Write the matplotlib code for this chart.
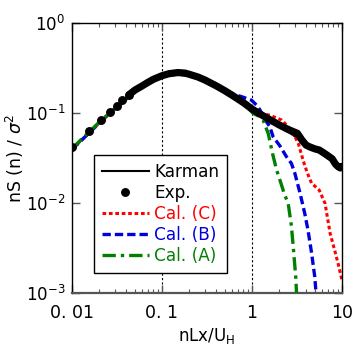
import matplotlib
matplotlib.use("Agg")
import matplotlib.pyplot as plt
from matplotlib.ticker import LogLocator, FixedLocator, NullFormatter

plt.rcParams['font.family'] = ['DejaVu Sans']
plt.rcParams['mathtext.fontset'] = 'dejavusans'

# Karman spectrum
karman_f = [0.01, 0.015, 0.02, 0.03, 0.05, 0.07, 0.1, 0.13, 0.15, 0.2, 0.3, 0.5, 0.7,
            1.0, 1.5, 2.0, 3.0, 5.0, 7.0, 10.0]
karman_v = [0.0398, 0.058, 0.0776, 0.111, 0.1746, 0.218, 0.256, 0.270, 0.271, 0.261,
            0.227, 0.174, 0.142, 0.1136, 0.0872, 0.0724, 0.055, 0.0393, 0.0314, 0.0248]

# Experiment
exp_f = [0.01, 0.0156, 0.0208, 0.0264, 0.0314, 0.0362, 0.043, 0.05, 0.06, 0.07, 0.08,
         0.1, 0.12, 0.15, 0.18, 0.2, 0.25, 0.3, 0.4, 0.5, 0.6, 0.7, 0.8, 1.0, 1.2,
         1.5, 2.0, 2.5, 2.9, 3.2, 3.6, 4.0, 4.4, 5.0, 5.6, 6.3, 7.0, 7.8, 8.5, 9.1,
         9.6, 10.0]
exp_v = [0.042, 0.0636, 0.0836, 0.1035, 0.121, 0.139, 0.160, 0.180, 0.200, 0.220, 0.237,
         0.260, 0.274, 0.282, 0.278, 0.270, 0.252, 0.233, 0.201, 0.177, 0.158, 0.143,
         0.131, 0.111, 0.099, 0.087, 0.074, 0.066, 0.062, 0.0595, 0.050, 0.044, 0.042,
         0.040, 0.0388, 0.036, 0.0335, 0.031, 0.027, 0.0253, 0.0245, 0.0255]

# Cal. (C)
calc_f = [0.01, 0.02, 0.05, 0.1, 0.15, 0.2, 0.3, 0.5, 0.7, 1.0, 1.23, 1.59, 2.14, 2.53,
          3.0, 3.3, 3.7, 4.1, 4.6, 5.6, 6.5, 7.4, 8.3, 9.1, 10.0]
calc_v = [0.0395, 0.077, 0.174, 0.256, 0.272, 0.262, 0.228, 0.175, 0.142, 0.113, 0.099,
          0.0945, 0.0836, 0.0705, 0.055, 0.045, 0.030, 0.022, 0.0166, 0.0139, 0.0099,
          0.0046, 0.003, 0.0021, 0.0014]

# Cal. (B)
calb_f = [0.01, 0.02, 0.05, 0.1, 0.15, 0.2, 0.3, 0.4, 0.5, 0.62, 0.77, 0.99, 1.12,
          1.23, 1.33, 1.58, 1.72, 2.05, 2.42, 2.75, 3.0, 3.43, 3.86, 4.2, 4.6, 5.0, 5.2]
calb_v = [0.0395, 0.077, 0.174, 0.256, 0.272, 0.262, 0.232, 0.207, 0.185, 0.162, 0.152,
          0.139, 0.123, 0.108, 0.091, 0.0705, 0.0545, 0.043, 0.0327, 0.0275, 0.0214,
          0.0128, 0.0077, 0.005, 0.0028, 0.0015, 0.0009]

# Cal. (A)
cala_f = [0.01, 0.02, 0.05, 0.1, 0.15, 0.2, 0.3, 0.5, 0.7, 0.85, 1.035, 1.2, 1.33,
          1.52, 1.7, 1.88, 2.1, 2.3, 2.53, 2.75, 2.9, 3.07, 3.15]
cala_v = [0.0405, 0.079, 0.178, 0.262, 0.285, 0.272, 0.232, 0.176, 0.140, 0.121, 0.099,
          0.092, 0.0836, 0.059, 0.035, 0.0233, 0.0166, 0.0125, 0.0099, 0.0055, 0.003,
          0.0015, 0.0009]

x_ticks = [0.01, 0.1, 1, 10]
x_ticklabels = ['0. 01', '0. 1', '1', '10']
y_ticks = [1e-3, 1e-2, 1e-1, 1e0]
y_ticklabels = [r'$10^{-3}$', r'$10^{-2}$', r'$10^{-1}$', r'$10^{0}$']

fig = plt.figure(figsize=(3.55, 3.45), dpi=100)
ax = fig.add_axes([0.203, 0.151, 0.760, 0.782])
ax.set_xscale('log')
ax.set_yscale('log')
ax.set_xlim(0.01, 10)
ax.set_ylim(1e-3, 1)

for gx in [0.1, 1]:
    ax.axvline(gx, color='black', linestyle=(0, (2, 2)), linewidth=0.8, zorder=1)

# experiment: dense part drawn as a thick band, separate dots at low frequency
n0 = 6
ax.plot(exp_f[n0:], exp_v[n0:], color='black', linewidth=5.2, solid_capstyle='round',
        solid_joinstyle='round', zorder=3)
ax.plot(karman_f, karman_v, color='black', linewidth=1.5, zorder=2, label='Karman')
ax.plot(exp_f[:n0 + 1], exp_v[:n0 + 1], linestyle='none', marker='o', markersize=5.4,
        color='black', zorder=4, label='Exp.')
ax.plot(calc_f, calc_v, color='#ff0000', linewidth=2.2, linestyle=(0, (1.2, 0.9)),
        zorder=2.5, label='Cal. (C)')
ax.plot(calb_f, calb_v, color='#0000dd', linewidth=2.4, linestyle=(0, (2.5, 1.2)),
        zorder=2.6, label='Cal. (B)')
ax.plot(cala_f, cala_v, color='#008000', linewidth=2.4, linestyle=(0, (4, 1.5, 1, 1.5)),
        zorder=2.7, label='Cal. (A)')

ax.xaxis.set_major_locator(FixedLocator(x_ticks))
ax.set_xticklabels(x_ticklabels)
ax.xaxis.set_minor_locator(LogLocator(base=10, subs=range(2, 10)))
ax.xaxis.set_minor_formatter(NullFormatter())
ax.yaxis.set_major_locator(FixedLocator(y_ticks))
ax.set_yticklabels(y_ticklabels)
ax.yaxis.set_minor_locator(FixedLocator([]))

ax.tick_params(which='both', direction='in', top=True, right=True, labelsize=12.5,
               color='#555555')
ax.tick_params(axis='y', labelsize=12)
ax.tick_params(which='major', length=6, width=1)
ax.tick_params(which='minor', length=3, width=0.8)
ax.tick_params(axis='x', pad=8)
ax.tick_params(axis='y', pad=5)
for s in ax.spines.values():
    s.set_linewidth(1.0)
ax.spines['bottom'].set_color('#555555')
ax.spines['bottom'].set_linewidth(1.6)

ax.set_xlabel(r'nLx/U$_\mathregular{H}$', fontsize=12, labelpad=3)
ax.set_ylabel(r'nS (n) / $\sigma^2$', fontsize=12.5, labelpad=0)

leg = ax.legend(loc='lower left', bbox_to_anchor=(0.081, 0.074), fontsize=12.2,
                frameon=True, fancybox=False, edgecolor='black', framealpha=1,
                handlelength=2.8, handletextpad=0.3, labelspacing=0.18,
                borderpad=0.45, borderaxespad=0)
leg.get_frame().set_linewidth(1.0)
for txt, c in zip(leg.get_texts(), ['black', 'black', '#ff0000', '#0000dd', '#008000']):
    txt.set_color(c)

fig.savefig('out.png', dpi=100)
